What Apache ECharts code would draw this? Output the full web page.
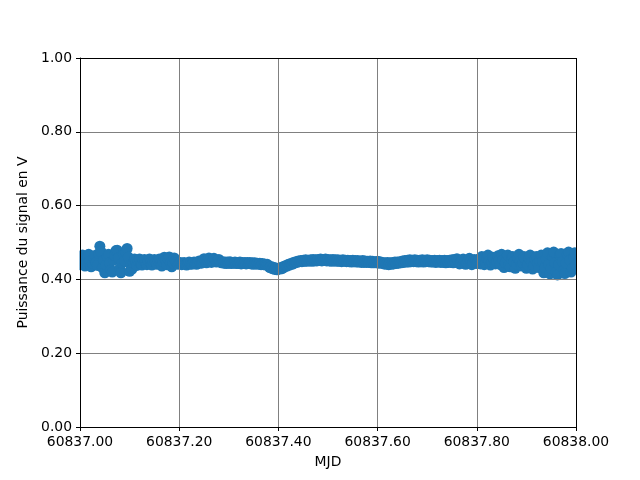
<!DOCTYPE html>
<html>
<head>
<meta charset="utf-8">
<script src="https://cdn.jsdelivr.net/npm/echarts@6/dist/echarts.min.js"></script>
<style>html,body{margin:0;padding:0;background:#fff}#c{width:640px;height:480px}</style>
</head>
<body>
<div id="c"></div>
<script>
// MJD sampling: start and step of the time grid
var mjdStart = 60837.0;
var mjdStep = 0.0025;
// Signal power (V)
var power = [
  0.440,0.452,0.466,0.455,0.436,0.448,0.462,0.468,0.450,0.434,0.444,0.458,0.465,0.446,
  0.438,0.470,0.490,0.475,0.432,0.452,
  0.418,0.440,0.462,0.468,0.445,0.425,
  0.420,0.452,0.465,0.478,0.479,0.458,0.430,0.418,0.445,0.468,
  0.450,0.475,0.484,0.460,0.422,0.440,
  0.428,0.445,0.455,0.448,0.438,0.450,0.455,0.442,0.439,0.452,
  0.454,0.444,0.440,0.450,0.455,0.446,0.439,0.448,0.454,0.447,
  0.441,0.450,0.455,0.445,
  0.436,0.448,0.460,0.452,0.440,0.455,0.461,0.446,0.434,0.444,0.458,0.450,
  0.446,0.441,0.443,0.446,0.440,0.444,0.446,0.441,0.439,0.444,
  0.447,0.442,0.441,0.445,0.447,0.443,0.441,0.446,0.450,0.445,
  0.444,0.450,0.456,0.450,0.445,0.452,0.458,0.452,
  0.446,0.450,0.457,0.453,0.447,0.451,0.454,0.448,
  0.445,0.448,0.444,0.447,0.443,0.447,0.444,0.448,0.443,0.446,
  0.444,0.447,0.443,0.446,0.443,0.447,0.442,0.446,0.443,0.446,
  0.442,0.446,0.443,0.446,0.442,0.445,0.441,0.445,0.442,0.444,
  0.441,0.444,0.440,0.443,0.440,0.442,0.439,0.441,
  0.437,0.432,0.435,0.429,0.433,0.427,0.431,0.426,0.430,0.428,
  0.432,0.429,0.435,0.433,0.438,0.436,0.441,0.439,0.443,0.441,0.446,0.444,0.448,0.446,0.450,0.448,
  0.451,0.448,0.452,0.449,0.453,0.449,0.452,0.450,0.453,0.449,
  0.454,0.450,0.453,0.450,0.454,0.451,0.455,0.450,0.454,0.451,
  0.455,0.450,0.454,0.450,0.453,0.449,0.454,0.450,0.453,0.449,
  0.453,0.449,0.452,0.448,0.453,0.449,0.452,0.448,0.452,0.448,
  0.451,0.447,0.452,0.448,0.451,0.447,0.451,0.447,0.450,0.446,
  0.451,0.446,0.450,0.446,0.449,0.446,0.450,0.445,0.449,0.445,
  0.448,0.445,0.449,0.444,0.448,0.444,
  0.446,0.442,0.445,0.441,0.446,0.440,0.445,0.441,0.446,0.442,0.447,0.443,0.447,0.444,0.448,0.445,
  0.450,0.446,0.451,0.447,0.452,0.447,0.453,0.448,0.452,0.448,
  0.453,0.448,0.452,0.447,0.452,0.448,0.453,0.447,0.452,0.448,
  0.453,0.448,0.452,0.447,0.451,0.447,0.452,0.446,0.451,0.447,
  0.452,0.446,0.451,0.446,0.452,0.445,0.451,0.446,0.452,0.446,
  0.453,0.445,0.454,0.446,
  0.456,0.450,0.442,0.446,0.452,0.455,0.448,0.441,0.445,0.452,
  0.457,0.450,0.440,0.446,0.454,0.450,0.443,0.448,0.456,0.442,
  0.462,0.452,0.440,0.446,0.458,0.466,0.450,0.439,
  0.447,0.460,0.455,0.442,0.448,0.464,0.452,0.440,
  0.468,0.452,0.432,0.445,0.460,0.466,0.440,0.434,0.455,0.462,0.448,0.430,0.442,0.458,0.468,0.450,
  0.436,0.445,0.462,0.455,0.430,0.440,0.458,0.466,0.446,0.428,0.438,0.456,0.462,0.444,0.432,0.450,
  0.466,0.448,0.418,0.432,0.456,0.472,0.440,0.415,0.430,0.462,
  0.474,0.445,0.420,0.412,0.440,0.466,0.470,0.448,0.425,0.416,
  0.445,0.468,0.474,0.452,0.420,0.430,0.460,0.472,0.440
];
var xTicks = [60837.0, 60837.2, 60837.4, 60837.6, 60837.8, 60838.0];
var yTicks = [0, 0.2, 0.4, 0.6, 0.8, 1.0];

var points = power.map(function (v, i) { return [mjdStart + i * mjdStep, v]; });

var chart = echarts.init(document.getElementById('c'), null, {renderer: 'canvas'});
var font = 'DejaVu Sans';
chart.setOption({
  animation: false,
  backgroundColor: '#ffffff',
  grid: {left: 80, right: 64, top: 58, bottom: 53, show: false},
  xAxis: {
    type: 'value', min: xTicks[0], max: xTicks[xTicks.length - 1], interval: 0.2,
    z: 5,
    name: 'MJD', nameLocation: 'middle', nameGap: 28,
    nameTextStyle: {color: '#000', fontFamily: font, fontSize: 13.9},
    axisLine: {show: true, onZero: false, lineStyle: {color: '#000', width: 1}},
    axisTick: {show: true, length: 4, inside: false, lineStyle: {color: '#000'}},
    axisLabel: {color: '#000', fontFamily: font, fontSize: 13.9, margin: 8,
      formatter: function (v) { return v.toFixed(2); }},
    splitLine: {show: true, lineStyle: {color: '#808080', width: 1}}
  },
  yAxis: {
    type: 'value', min: yTicks[0], max: yTicks[yTicks.length - 1], interval: 0.2,
    z: 5,
    name: 'Puissance du signal en V', nameLocation: 'middle', nameGap: 45,
    nameTextStyle: {color: '#000', fontFamily: font, fontSize: 13.9},
    axisLine: {show: true, onZero: false, lineStyle: {color: '#000', width: 1}},
    axisTick: {show: true, length: 4, inside: false, lineStyle: {color: '#000'}},
    axisLabel: {color: '#000', fontFamily: font, fontSize: 13.9, margin: 8,
      formatter: function (v) { return v.toFixed(2); }},
    splitLine: {show: true, lineStyle: {color: '#808080', width: 1}}
  },
  series: [{
    type: 'scatter',
    data: points,
    symbol: 'circle',
    symbolSize: 11,
    clip: true,
    z: 2,
    itemStyle: {color: '#1f77b4', opacity: 1}
  }]
});
// frame lines and side masks, placed via the grid's pixel conversion
var tl = chart.convertToPixel({gridIndex: 0}, [xTicks[0], yTicks[yTicks.length - 1]]);
var br = chart.convertToPixel({gridIndex: 0}, [xTicks[xTicks.length - 1], yTicks[0]]);
chart.setOption({graphic: [
  {type: 'rect', z: 3, shape: {x: tl[0] - 8, y: tl[1], width: 7.5, height: br[1] - tl[1] - 6}, style: {fill: '#fff'}},
  {type: 'rect', z: 3, shape: {x: br[0] + 0.5, y: tl[1], width: 12, height: br[1] - tl[1]}, style: {fill: '#fff'}},
  {type: 'line', z: 10, shape: {x1: tl[0], y1: tl[1] + 0.5, x2: br[0], y2: tl[1] + 0.5}, style: {stroke: '#000', lineWidth: 1}},
  {type: 'line', z: 10, shape: {x1: br[0] + 0.5, y1: tl[1], x2: br[0] + 0.5, y2: br[1]}, style: {stroke: '#000', lineWidth: 1}}
]});
</script>
</body>
</html>
